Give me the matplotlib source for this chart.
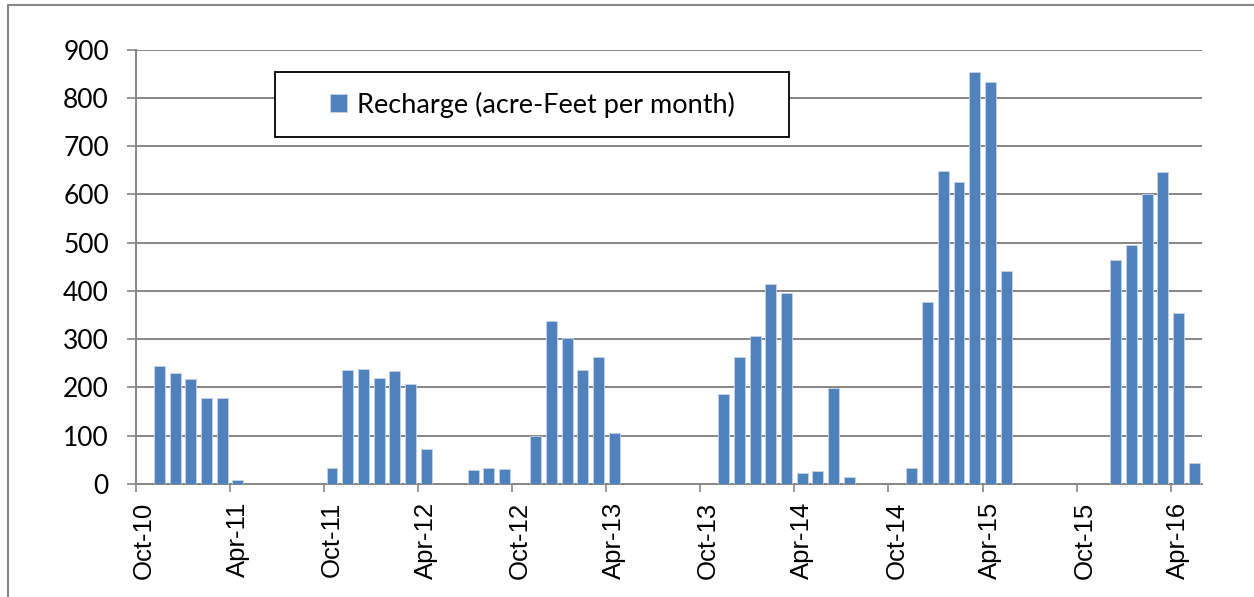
import matplotlib
matplotlib.use("Agg")
import matplotlib.pyplot as plt
import numpy as np
import pandas as pd
from matplotlib.patches import Rectangle
from matplotlib.lines import Line2D

# monthly recharge, Oct-2010 .. May-2016
months = pd.date_range("2010-10-01", "2016-05-01", freq="MS")
recharge = [
    0, 245, 229, 218, 178, 179, 9, 0, 0, 0, 0, 0,          # Oct-10 .. Sep-11
    33, 237, 238, 220, 235, 208, 73, 0, 0, 29, 33, 32,     # Oct-11 .. Sep-12
    0, 100, 338, 303, 237, 264, 105, 0, 0, 0, 0, 0,        # Oct-12 .. Sep-13
    0, 186, 264, 306, 414, 395, 22, 26, 199, 15, 0, 0,     # Oct-13 .. Sep-14
    0, 33, 377, 649, 626, 854, 832, 441, 0, 0, 0, 0,       # Oct-14 .. Sep-15
    0, 0, 463, 496, 601, 646, 354, 43,                     # Oct-15 .. May-16
]
series_name = "Recharge (acre-Feet per month)"
y_ticks = [0, 100, 200, 300, 400, 500, 600, 700, 800, 900]

BAR = "#4F81BD"
GRID = "#868686"

fig = plt.figure(figsize=(12.54, 5.97), dpi=100)
ax = fig.add_axes([0.1085, 0.1893, 0.85, 0.7277])

x = np.arange(len(months))
ax.bar(x + 0.5, recharge, width=0.7, color=BAR, edgecolor="#c6d5ea",
       linewidth=0.6, zorder=3, label=series_name)

ax.set_xlim(0, len(months))
ax.set_ylim(0, 900)
ax.set_yticks(y_ticks)
ax.yaxis.grid(True, color=GRID, linewidth=1.4, zorder=0)
ax.set_axisbelow(True)

# tick marks on month boundaries, labels centred in the month (Excel date axis)
ax.set_xticks(x[::6])
ax.set_xticklabels([])
ax.set_xticks(x[::6] + 0.5, minor=True)
ax.set_xticklabels(months[::6].strftime("%b-%y"), minor=True, rotation=90,
                   fontfamily="Liberation Sans", fontsize=18.5)
for lbl in ax.get_yticklabels():
    lbl.set_fontfamily("Lato")
    lbl.set_fontsize(19)

ax.tick_params(axis="y", length=6.5, width=1.2, color=GRID, pad=13)
ax.tick_params(axis="x", which="major", length=6, width=1.2, color=GRID)
ax.tick_params(axis="x", which="minor", length=0, pad=13)
for side in ("top", "right"):
    ax.spines[side].set_visible(False)
for side in ("left", "bottom"):
    ax.spines[side].set_color(GRID)
    ax.spines[side].set_linewidth(1.4)

# legend box
ax.add_patch(Rectangle((0.1304, 0.7986), 0.4822, 0.1494, transform=ax.transAxes,
                       facecolor="white", edgecolor="black", linewidth=1.3,
                       zorder=4, clip_on=False))
leg = ax.legend(loc="center", bbox_to_anchor=(0.3715, 0.8733), frameon=False,
                prop={"family": "Lato", "size": 19.5}, handlelength=0.65,
                handleheight=0.65, handletextpad=0.35)
leg.set_zorder(5)

# outer chart border (top and left visible)
fig.add_artist(Line2D([8 / 1254, 8 / 1254, 1.0], [0.0, 1 - 5 / 597, 1 - 5 / 597],
                      transform=fig.transFigure, color=GRID, linewidth=1.5))

fig.savefig("out.png", dpi=100)
